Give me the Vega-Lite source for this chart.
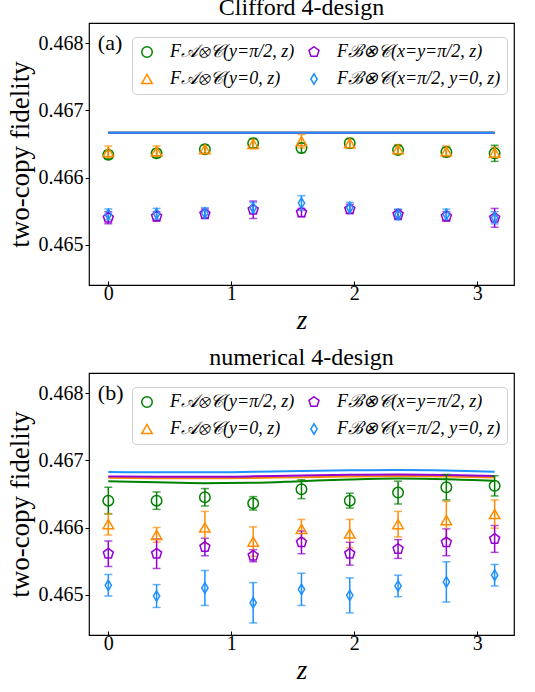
{
  "$schema": "https://vega.github.io/schema/vega-lite/v6.json",
  "padding": {"left": 5, "top": -5, "right": 5, "bottom": 0},
  "background": "white",
  "datasets": {
    "ptsA": [
      {"s":"A1","z":0,"f":0.46634,"e":0.00006},{"s":"A1","z":0.3927,"f":0.46636,"e":0.00006},{"s":"A1","z":0.7854,"f":0.46642,"e":0.00006},{"s":"A1","z":1.1781,"f":0.46651,"e":0.00007},{"s":"A1","z":1.5708,"f":0.46644,"e":0.00007},{"s":"A1","z":1.9635,"f":0.46651,"e":0.00007},{"s":"A1","z":2.3562,"f":0.46641,"e":0.00006},{"s":"A1","z":2.7489,"f":0.46638,"e":0.00007},{"s":"A1","z":3.1416,"f":0.46636,"e":0.00012},
      {"s":"A0","z":0,"f":0.46638,"e":0.00009},{"s":"A0","z":0.3927,"f":0.46639,"e":0.00008},{"s":"A0","z":0.7854,"f":0.46642,"e":0.00006},{"s":"A0","z":1.1781,"f":0.4665,"e":0.00007},{"s":"A0","z":1.5708,"f":0.46654,"e":0.0001},{"s":"A0","z":1.9635,"f":0.46651,"e":0.00007},{"s":"A0","z":2.3562,"f":0.46642,"e":0.00007},{"s":"A0","z":2.7489,"f":0.46639,"e":0.00008},{"s":"A0","z":3.1416,"f":0.46637,"e":0.00008},
      {"s":"B1","z":0,"f":0.4654,"e":0.00009},{"s":"B1","z":0.3927,"f":0.46542,"e":0.00007},{"s":"B1","z":0.7854,"f":0.46546,"e":0.00007},{"s":"B1","z":1.1781,"f":0.46552,"e":0.00013},{"s":"B1","z":1.5708,"f":0.46548,"e":0.00006},{"s":"B1","z":1.9635,"f":0.46553,"e":0.00007},{"s":"B1","z":2.3562,"f":0.46545,"e":0.00007},{"s":"B1","z":2.7489,"f":0.46542,"e":0.00007},{"s":"B1","z":3.1416,"f":0.4654,"e":0.00014},
      {"s":"B0","z":0,"f":0.46545,"e":0.00008},{"s":"B0","z":0.3927,"f":0.46546,"e":0.00008},{"s":"B0","z":0.7854,"f":0.46547,"e":0.00008},{"s":"B0","z":1.1781,"f":0.46555,"e":0.00008},{"s":"B0","z":1.5708,"f":0.46562,"e":0.00011},{"s":"B0","z":1.9635,"f":0.46555,"e":0.00008},{"s":"B0","z":2.3562,"f":0.46545,"e":0.00008},{"s":"B0","z":2.7489,"f":0.46545,"e":0.00008},{"s":"B0","z":3.1416,"f":0.4654,"e":0.00009}
    ],
    "ptsB": [
      {"s":"A1","z":0,"f":0.4664,"e":0.0002},{"s":"A1","z":0.3927,"f":0.4664,"e":0.00013},{"s":"A1","z":0.7854,"f":0.46645,"e":0.00013},{"s":"A1","z":1.1781,"f":0.46636,"e":0.0001},{"s":"A1","z":1.5708,"f":0.46657,"e":0.00014},{"s":"A1","z":1.9635,"f":0.4664,"e":0.00011},{"s":"A1","z":2.3562,"f":0.46652,"e":0.00017},{"s":"A1","z":2.7489,"f":0.4666,"e":0.00019},{"s":"A1","z":3.1416,"f":0.46662,"e":0.00015},
      {"s":"A0","z":0,"f":0.46605,"e":0.00016},{"s":"A0","z":0.3927,"f":0.46589,"e":0.00011},{"s":"A0","z":0.7854,"f":0.466,"e":0.00024},{"s":"A0","z":1.1781,"f":0.46579,"e":0.00022},{"s":"A0","z":1.5708,"f":0.46598,"e":0.00014},{"s":"A0","z":1.9635,"f":0.46591,"e":0.00021},{"s":"A0","z":2.3562,"f":0.46605,"e":0.00019},{"s":"A0","z":2.7489,"f":0.46611,"e":0.00028},{"s":"A0","z":3.1416,"f":0.4662,"e":0.00021},
      {"s":"B1","z":0,"f":0.46561,"e":0.00019},{"s":"B1","z":0.3927,"f":0.46561,"e":0.00022},{"s":"B1","z":0.7854,"f":0.46571,"e":0.00013},{"s":"B1","z":1.1781,"f":0.46558,"e":0.00009},{"s":"B1","z":1.5708,"f":0.46578,"e":0.00017},{"s":"B1","z":1.9635,"f":0.46561,"e":0.00017},{"s":"B1","z":2.3562,"f":0.46568,"e":0.00014},{"s":"B1","z":2.7489,"f":0.46578,"e":0.0002},{"s":"B1","z":3.1416,"f":0.46583,"e":0.0002},
      {"s":"B0","z":0,"f":0.46514,"e":0.00016},{"s":"B0","z":0.3927,"f":0.46498,"e":0.00017},{"s":"B0","z":0.7854,"f":0.4651,"e":0.00026},{"s":"B0","z":1.1781,"f":0.46488,"e":0.0003},{"s":"B0","z":1.5708,"f":0.46508,"e":0.00024},{"s":"B0","z":1.9635,"f":0.46499,"e":0.00026},{"s":"B0","z":2.3562,"f":0.46513,"e":0.00016},{"s":"B0","z":2.7489,"f":0.46519,"e":0.0003},{"s":"B0","z":3.1416,"f":0.46529,"e":0.00016}
    ],
    "linesA": [
      {"s":"A1","z":0,"f":0.466667},{"s":"A1","z":3.1416,"f":0.466667},
      {"s":"A0","z":0,"f":0.466667},{"s":"A0","z":3.1416,"f":0.466667},
      {"s":"B1","z":0,"f":0.466667},{"s":"B1","z":3.1416,"f":0.466667},
      {"s":"B0","z":0,"f":0.466667},{"s":"B0","z":3.1416,"f":0.466667}
    ],
    "linesB": [
      {"s":"A1","z":0,"f":0.46669},{"s":"A1","z":0.3927,"f":0.466672},{"s":"A1","z":0.7854,"f":0.46666},{"s":"A1","z":1.1781,"f":0.466665},{"s":"A1","z":1.5708,"f":0.46669},{"s":"A1","z":1.9635,"f":0.466715},{"s":"A1","z":2.3562,"f":0.466728},{"s":"A1","z":2.7489,"f":0.46672},{"s":"A1","z":3.1416,"f":0.466695},
      {"s":"A0","z":0,"f":0.46674},{"s":"A0","z":0.3927,"f":0.466735},{"s":"A0","z":0.7854,"f":0.466733},{"s":"A0","z":1.1781,"f":0.466738},{"s":"A0","z":1.5708,"f":0.46675},{"s":"A0","z":1.9635,"f":0.46676},{"s":"A0","z":2.3562,"f":0.466765},{"s":"A0","z":2.7489,"f":0.46676},{"s":"A0","z":3.1416,"f":0.466745},
      {"s":"B1","z":0,"f":0.46676},{"s":"B1","z":0.3927,"f":0.466755},{"s":"B1","z":0.7854,"f":0.466755},{"s":"B1","z":1.1781,"f":0.466762},{"s":"B1","z":1.5708,"f":0.466775},{"s":"B1","z":1.9635,"f":0.466785},{"s":"B1","z":2.3562,"f":0.466788},{"s":"B1","z":2.7489,"f":0.466782},{"s":"B1","z":3.1416,"f":0.466765},
      {"s":"B0","z":0,"f":0.466825},{"s":"B0","z":0.3927,"f":0.466822},{"s":"B0","z":0.7854,"f":0.466822},{"s":"B0","z":1.1781,"f":0.46683},{"s":"B0","z":1.5708,"f":0.466842},{"s":"B0","z":1.9635,"f":0.466852},{"s":"B0","z":2.3562,"f":0.466855},{"s":"B0","z":2.7489,"f":0.466848},{"s":"B0","z":3.1416,"f":0.46683}
    ]
  },
  "resolve": {"scale": {"x": "independent", "y": "independent", "color": "independent", "shape": "independent"}, "legend": {"color": "independent", "shape": "independent"}},
  "spacing": 11,
  "vconcat": [
    {
      "title": {"text": "Clifford 4-design", "offset": 3},
      "width": 425,
      "height": 262,
      "resolve": {"legend": {"color": "independent", "shape": "independent"}},
      "layer": [
        {
          "data": {"name": "linesA"},
          "mark": {"type": "line", "strokeWidth": 2},
          "encoding": {
            "x": {"field": "z", "type": "quantitative", "title": "z", "scale": {"domain": [-0.157, 3.299], "nice": false, "zero": false}, "axis": {"values": [0, 1, 2, 3], "format": "d", "tickSize": -4, "titleFontStyle": "italic"}},
            "y": {"field": "f", "type": "quantitative", "title": "two-copy fidelity", "scale": {"domain": [0.4644, 0.4683], "nice": false, "zero": false}, "axis": {"values": [0.465, 0.466, 0.467, 0.468], "format": ".3f"}},
            "color": {"field": "s", "type": "nominal", "scale": {"domain": ["A1", "A0", "B1", "B0"], "range": ["#008000", "#FF8C00", "#9400D3", "#1E90FF"]}, "legend": null}
          }
        },
        {
          "data": {"name": "ptsA"},
          "mark": {"type": "errorbar", "ticks": {"size": 8}, "thickness": 1.5},
          "encoding": {
            "x": {"field": "z", "type": "quantitative", "title": "z"},
            "y": {"field": "f", "type": "quantitative", "title": "two-copy fidelity"},
            "yError": {"field": "e"},
            "color": {"field": "s", "type": "nominal", "legend": null}
          }
        },
        {
          "data": {"name": "ptsA"},
          "mark": {"type": "point", "filled": false, "strokeWidth": 1.5, "size": 110, "opacity": 1},
          "encoding": {
            "x": {"field": "z", "type": "quantitative", "title": "z"},
            "y": {"field": "f", "type": "quantitative", "title": "two-copy fidelity"},
            "color": {"field": "s", "type": "nominal", "legend": {"orient": "none", "legendX": 43, "legendY": 14, "columns": 2, "title": null, "labelExpr": "{'A1':'F𝒜⊗𝒞(y=π/2, z)','A0':'F𝒜⊗𝒞(y=0, z)','B1':'Fℬ⊗𝒞(x=y=π/2, z)','B0':'Fℬ⊗𝒞(x=π/2, y=0, z)'}[datum.label]"}},
            "shape": {"field": "s", "type": "nominal", "scale": {"domain": ["A1", "A0", "B1", "B0"], "range": ["circle", "triangle-up", "M0,-1L0.951,-0.309L0.588,0.809L-0.588,0.809L-0.951,-0.309Z", "M0,-1L0.6,0L0,1L-0.6,0Z"]}, "legend": {"orient": "none", "legendX": 43, "legendY": 14, "columns": 2, "title": null, "labelExpr": "{'A1':'F𝒜⊗𝒞(y=π/2, z)','A0':'F𝒜⊗𝒞(y=0, z)','B1':'Fℬ⊗𝒞(x=y=π/2, z)','B0':'Fℬ⊗𝒞(x=π/2, y=0, z)'}[datum.label]"}}
          }
        },
        {
          "data": {"values": [{}]},
          "mark": {"type": "text", "text": "(a)", "align": "left", "baseline": "middle", "fontSize": 22, "font": "Liberation Serif"},
          "encoding": {"x": {"datum": -0.085, "type": "quantitative"}, "y": {"datum": 0.468, "type": "quantitative"}}
        }
      ]
    },
    {
      "title": {"text": "numerical 4-design", "offset": 3},
      "width": 425,
      "height": 262,
      "resolve": {"legend": {"color": "independent", "shape": "independent"}},
      "layer": [
        {
          "data": {"name": "linesB"},
          "mark": {"type": "line", "strokeWidth": 2, "interpolate": "monotone"},
          "encoding": {
            "x": {"field": "z", "type": "quantitative", "title": "z", "scale": {"domain": [-0.157, 3.299], "nice": false, "zero": false}, "axis": {"values": [0, 1, 2, 3], "format": "d", "tickSize": -4, "titleFontStyle": "italic"}},
            "y": {"field": "f", "type": "quantitative", "title": "two-copy fidelity", "scale": {"domain": [0.4644, 0.4683], "nice": false, "zero": false}, "axis": {"values": [0.465, 0.466, 0.467, 0.468], "format": ".3f"}},
            "color": {"field": "s", "type": "nominal", "scale": {"domain": ["A1", "A0", "B1", "B0"], "range": ["#008000", "#FF8C00", "#9400D3", "#1E90FF"]}, "legend": null}
          }
        },
        {
          "data": {"name": "ptsB"},
          "mark": {"type": "errorbar", "ticks": {"size": 8}, "thickness": 1.5},
          "encoding": {
            "x": {"field": "z", "type": "quantitative", "title": "z"},
            "y": {"field": "f", "type": "quantitative", "title": "two-copy fidelity"},
            "yError": {"field": "e"},
            "color": {"field": "s", "type": "nominal", "legend": null}
          }
        },
        {
          "data": {"name": "ptsB"},
          "mark": {"type": "point", "filled": false, "strokeWidth": 1.5, "size": 110, "opacity": 1},
          "encoding": {
            "x": {"field": "z", "type": "quantitative", "title": "z"},
            "y": {"field": "f", "type": "quantitative", "title": "two-copy fidelity"},
            "color": {"field": "s", "type": "nominal", "legend": {"orient": "none", "legendX": 43, "legendY": 14, "columns": 2, "title": null, "labelExpr": "{'A1':'F𝒜⊗𝒞(y=π/2, z)','A0':'F𝒜⊗𝒞(y=0, z)','B1':'Fℬ⊗𝒞(x=y=π/2, z)','B0':'Fℬ⊗𝒞(x=π/2, y=0, z)'}[datum.label]"}},
            "shape": {"field": "s", "type": "nominal", "scale": {"domain": ["A1", "A0", "B1", "B0"], "range": ["circle", "triangle-up", "M0,-1L0.951,-0.309L0.588,0.809L-0.588,0.809L-0.951,-0.309Z", "M0,-1L0.6,0L0,1L-0.6,0Z"]}, "legend": {"orient": "none", "legendX": 43, "legendY": 14, "columns": 2, "title": null, "labelExpr": "{'A1':'F𝒜⊗𝒞(y=π/2, z)','A0':'F𝒜⊗𝒞(y=0, z)','B1':'Fℬ⊗𝒞(x=y=π/2, z)','B0':'Fℬ⊗𝒞(x=π/2, y=0, z)'}[datum.label]"}}
          }
        },
        {
          "data": {"values": [{}]},
          "mark": {"type": "text", "text": "(b)", "align": "left", "baseline": "middle", "fontSize": 22, "font": "Liberation Serif"},
          "encoding": {"x": {"datum": -0.085, "type": "quantitative"}, "y": {"datum": 0.468, "type": "quantitative"}}
        }
      ]
    }
  ],
  "config": {
    "font": "Liberation Serif",
    "view": {"stroke": "black", "strokeWidth": 1.2},
    "axis": {"grid": false, "domain": false, "labelFont": "Liberation Serif", "labelFontSize": 20, "labelColor": "black", "tickColor": "black", "tickSize": 4, "titleFont": "Liberation Serif", "titleFontWeight": "normal", "titleFontSize": 27, "titleColor": "black"},
    "title": {"font": "Liberation Serif", "fontSize": 24, "fontWeight": "normal", "color": "black"},
    "legend": {"fillColor": "white", "strokeColor": "#d0d0d0", "cornerRadius": 4, "padding": 6, "labelFont": "Liberation Serif", "labelFontSize": 18, "labelFontStyle": "italic", "labelColor": "black", "labelLimit": 400, "symbolSize": 110, "symbolStrokeWidth": 1.5, "rowPadding": 9, "columnPadding": 10, "labelOffset": 14}
  }
}
